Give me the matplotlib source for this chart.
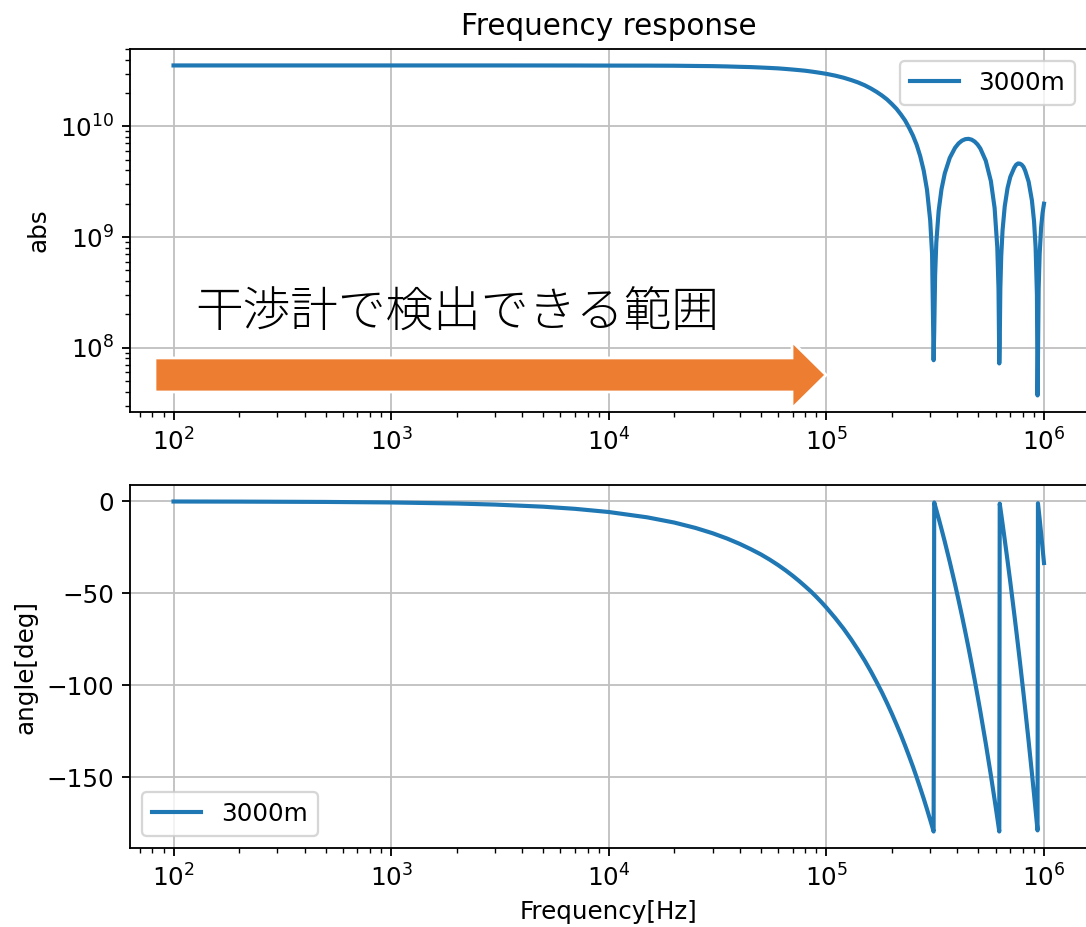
import matplotlib
matplotlib.use("Agg")
import matplotlib.pyplot as plt
from matplotlib.patches import FancyArrow

# frequency response of the 3000m line
freq = [100, 200, 500, 1e3, 2e3, 3e3, 5e3, 7e3, 1e4,
        1.5e4, 2e4, 2.5e4, 3e4, 3.5e4, 4e4, 4.5e4, 5e4, 5.5e4, 6e4, 6.5e4,
        7e4, 7.5e4, 8e4, 8.5e4, 9e4, 9.5e4, 1e5,
        1.1e5, 1.2e5, 1.3e5, 1.4e5, 1.5e5, 1.6e5, 1.7e5, 1.8e5, 1.9e5, 2.0e5,
        2.1e5, 2.2e5, 2.3e5, 2.4e5, 2.5e5, 2.6e5,
        2.7e5, 2.8e5, 2.9e5, 3.0e5, 3.06e5, 3.11e5,
        3.13e5, 3.16e5, 3.20e5, 3.28e5, 3.38e5, 3.5e5, 3.69e5, 3.9e5, 4.05e5, 4.2e5,
        4.35e5, 4.5e5, 4.65e5, 4.8e5, 4.95e5, 5.1e5, 5.4e5, 5.7e5, 5.93e5, 6.1e5,
        6.18e5, 6.23e5,
        6.26e5, 6.30e5, 6.36e5, 6.45e5, 6.6e5, 6.8e5, 7.0e5, 7.3e5, 7.45e5, 7.6e5,
        7.75e5, 7.9e5, 8.05e5, 8.2e5, 8.5e5, 8.8e5, 9.0e5, 9.15e5, 9.28e5, 9.34e5,
        9.38e5, 9.45e5, 9.55e5, 9.7e5, 9.85e5, 1e6]

abs_vals = [3.55e10, 3.55e10, 3.55e10, 3.55e10, 3.55e10, 3.55e10, 3.548e10, 3.546e10, 3.54e10,
            3.537e10, 3.53e10, 3.512e10, 3.50e10, 3.477e10, 3.45e10, 3.43e10, 3.40e10, 3.37e10,
            3.34e10, 3.30e10,
            3.26e10, 3.22e10, 3.18e10, 3.13e10, 3.08e10, 3.03e10, 2.98e10,
            2.87e10, 2.75e10, 2.62e10, 2.49e10, 2.35e10, 2.20e10, 2.05e10, 1.90e10, 1.75e10, 1.59e10,
            1.44e10, 1.28e10, 1.13e10, 9.7e9, 8.24e9, 6.8e9,
            5.36e9, 3.99e9, 2.67e9, 1.41e9, 7.0e8, 7.7e7,
            1.4e8, 4.5e8, 8.9e8, 1.72e9, 2.70e9, 3.76e9, 5.19e9, 6.39e9, 7.01e9, 7.43e9,
            7.66e9, 7.71e9, 7.58e9, 7.29e9, 6.86e9, 6.30e9, 4.89e9, 3.20e9, 1.83e9, 8.1e8,
            3.4e8, 7.2e7,
            1.1e8, 3.4e8, 6.7e8, 1.15e9, 1.89e9, 2.77e9, 3.49e9, 4.23e9, 4.5e9, 4.62e9,
            4.6e9, 4.5e9, 4.3e9, 3.96e9, 3.16e9, 2.14e9, 1.39e9, 8.1e8, 3.0e8, 3.7e7,
            7.6e7, 3.4e8, 7.0e8, 1.22e9, 1.65e9, 2.0e9]

phase_vals = [-0.06, -0.12, -0.29, -0.58, -1.15, -1.73, -2.88, -4.04, -5.77,
              -8.65, -11.5, -14.4, -17.3, -20.2, -23.1, -26.0, -28.8, -31.7, -34.6, -37.5,
              -40.4, -43.3, -46.2, -49.0, -51.9, -54.8, -57.7,
              -63.5, -69.2, -75.0, -80.8, -86.5, -92.3, -98.1, -103.8, -109.6, -115.4,
              -121.2, -126.9, -132.7, -138.5, -144.2, -150.0,
              -155.8, -161.5, -167.3, -173.1, -176.5, -179.4,
              -0.6, -2.3, -4.6, -9.2, -15.0, -21.9, -32.9, -45.0, -53.7, -62.3,
              -71.0, -79.6, -88.3, -96.9, -105.6, -114.2, -131.5, -148.8, -162.1, -171.9,
              -176.5, -179.4,
              -1.2, -3.5, -6.9, -12.1, -20.8, -32.3, -43.8, -61.2, -69.8, -78.5,
              -87.1, -95.8, -104.4, -113.1, -130.4, -147.7, -159.2, -167.9, -175.4, -178.8,
              -1.0, -4.5, -9.5, -17.5, -25.5, -33.5]

label = "3000m"
note = "干渉計で検出できる範囲"

plt.rcParams["font.size"] = 10.75
plt.rcParams["lines.linewidth"] = 1.8
plt.rcParams["grid.color"] = "#c0c0c0"

fig = plt.figure(figsize=(1086 / 165, 927 / 165), dpi=165)
ax1 = fig.add_axes([0.1197, 0.5556, 0.8817, 0.3916])
ax2 = fig.add_axes([0.1197, 0.0852, 0.8817, 0.3916])

ax1.plot(freq, abs_vals, label=label)
ax1.set_xscale("log")
ax1.set_yscale("log")
ax1.set_title("Frequency response")
ax1.set_ylabel("abs")
ax1.grid(True)
ax1.legend(loc="upper right")

# detectable range arrow + caption
ax1.add_patch(FancyArrow(0.0261, 0.1019, 0.7008, 0, width=0.0937, head_width=0.1846,
                         head_length=0.0355, length_includes_head=True,
                         transform=ax1.transAxes, facecolor="#ED7D31",
                         edgecolor="white", linewidth=1.2, zorder=3))
ax1.text(0.0679, 0.2727, note, transform=ax1.transAxes, fontsize=20.8,
         family=["Noto Sans CJK JP"], fontweight="light", va="center", ha="left")

ax2.plot(freq, phase_vals, label=label)
ax2.set_xscale("log")
ax2.set_yticks([0, -50, -100, -150])
ax2.set_xlabel("Frequency[Hz]")
ax2.set_ylabel("angle[deg]")
ax2.grid(True)
ax2.legend(loc="lower left")

fig.savefig("out.png", dpi=165)
